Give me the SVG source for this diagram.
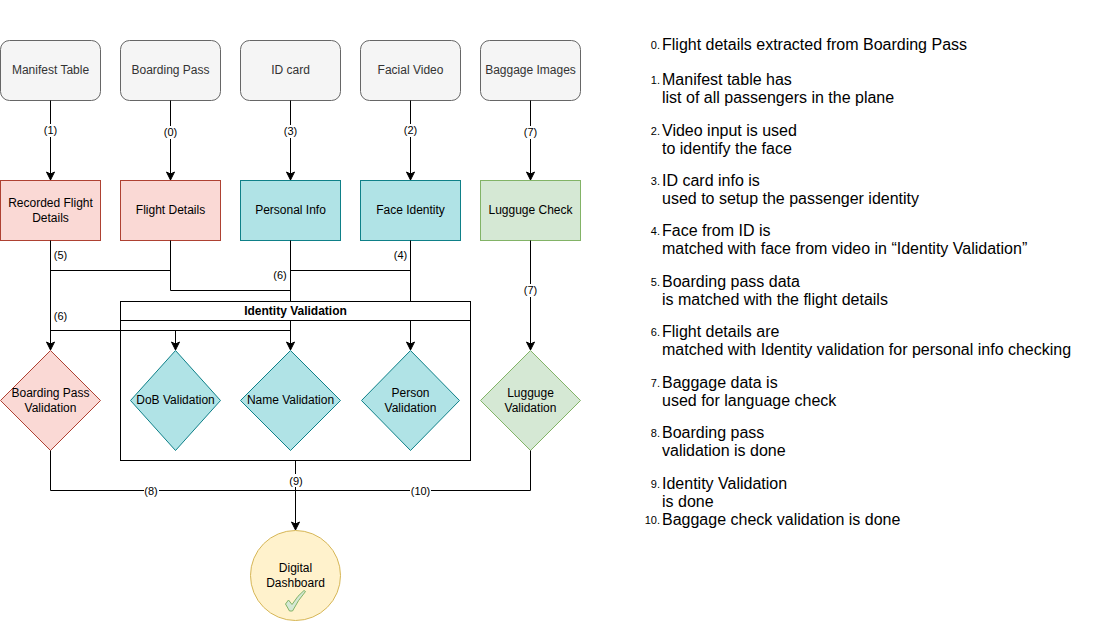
<svg xmlns="http://www.w3.org/2000/svg" width="1101" height="621" viewBox="0 0 1101 621">
<defs>
<marker id="arrow" markerUnits="userSpaceOnUse" markerWidth="12" markerHeight="12" refX="9" refY="5" orient="auto"><path d="M1 1L9 5L1 9L3 5Z" fill="#000" stroke="#000" stroke-width="1"/></marker>
</defs>
<style>
text{font-family:"Liberation Sans",Arial,sans-serif;font-size:12px;fill:#000;text-anchor:middle}
.src rect{fill:#f5f5f5;stroke:#666}
.src text{fill:#333}
.red rect,.red path{fill:#fad9d5;stroke:#ae4132}
.teal rect,.teal path{fill:#b0e3e6;stroke:#0e8088}
.green rect,.green path{fill:#d5e8d4;stroke:#82b366}
.line{fill:none;stroke:#000;stroke-width:1}
.lab{font-size:11px}
.labbg{fill:#fff}
.leg{font-size:16px;text-anchor:start}
.num{font-size:11px;text-anchor:end}
</style>
<rect width="1101" height="621" fill="#fff"/>
<g id="n-manifest" class="src"><rect x="0.5" y="40.5" width="100" height="60" rx="9" ry="9"/><text x="50.5" y="74">Manifest Table</text></g>
<g id="n-boarding" class="src"><rect x="120.5" y="40.5" width="100" height="60" rx="9" ry="9"/><text x="170.5" y="74">Boarding Pass</text></g>
<g id="n-id" class="src"><rect x="240.5" y="40.5" width="100" height="60" rx="9" ry="9"/><text x="290.5" y="74">ID card</text></g>
<g id="n-video" class="src"><rect x="360.5" y="40.5" width="100" height="60" rx="9" ry="9"/><text x="410.5" y="74">Facial Video</text></g>
<g id="n-baggage" class="src"><rect x="480.5" y="40.5" width="100" height="60" rx="9" ry="9"/><text x="530.5" y="74">Baggage Images</text></g>
<g id="n-recorded" class="red"><rect x="0.5" y="180.5" width="100" height="60"/><text x="50.5" y="207">Recorded Flight</text><text x="50.5" y="222">Details</text></g>
<g id="n-flight" class="red"><rect x="120.5" y="180.5" width="100" height="60"/><text x="170.5" y="214">Flight Details</text></g>
<g id="n-personal" class="teal"><rect x="240.5" y="180.5" width="100" height="60"/><text x="290.5" y="214">Personal Info</text></g>
<g id="n-face" class="teal"><rect x="360.5" y="180.5" width="100" height="60"/><text x="410.5" y="214">Face Identity</text></g>
<g id="n-luggage" class="green"><rect x="480.5" y="180.5" width="100" height="60"/><text x="530.5" y="214">Lugguge Check</text></g>
<g id="n-bpv" class="red"><path d="M50.5 350.5L100.5 400.5L50.5 450.5L0.5 400.5Z"/><text x="50.5" y="397">Boarding Pass</text><text x="50.5" y="412">Validation</text></g>
<g id="n-dob" class="teal"><path d="M175.5 350.5L220.5 400.5L175.5 450.5L130.5 400.5Z"/><text x="175.5" y="404">DoB Validation</text></g>
<g id="n-name" class="teal"><path d="M290.5 350.5L340.5 400.5L290.5 450.5L240.5 400.5Z"/><text x="290.5" y="404">Name Validation</text></g>
<g id="n-person" class="teal"><path d="M410.5 350.5L459.5 400.5L410.5 450.5L361.5 400.5Z"/><text x="410.5" y="397">Person</text><text x="410.5" y="412">Validation</text></g>
<g id="n-lv" class="green"><path d="M530.5 350.5L580.5 400.5L530.5 450.5L480.5 400.5Z"/><text x="530.5" y="397">Lugguge</text><text x="530.5" y="412">Validation</text></g>
<g id="n-dashboard"><circle cx="295.5" cy="575.5" r="45" fill="#fff2cc" stroke="#d6b656"/><text x="295.5" y="572">Digital</text><text x="295.5" y="587">Dashboard</text><path d="M285.5 604L288.5 600L292 604.5Q298 595 304 590.5L305.5 591.5Q298 600 292.5 611L289.5 611Z" fill="#d5e8d4" stroke="#82b366"/></g>
<g id="connectors">
<path class="line" marker-end="url(#arrow)" d="M50.5 100.5V180"/>
<path class="line" marker-end="url(#arrow)" d="M170.5 100.5V180"/>
<path class="line" marker-end="url(#arrow)" d="M290.5 100.5V180"/>
<path class="line" marker-end="url(#arrow)" d="M410.5 100.5V180"/>
<path class="line" marker-end="url(#arrow)" d="M530.5 100.5V180"/>
<path class="line" marker-end="url(#arrow)" d="M530.5 240.5V350"/>
<path class="line" marker-end="url(#arrow)" d="M50.5 240.5V350"/>
<path class="line" d="M50.5 270.5H170.5M170.5 240.5V290.5H290.5"/>
<path class="line" marker-end="url(#arrow)" d="M290.5 240.5V350"/>
<path class="line" d="M290.5 270.5H410.5"/>
<path class="line" marker-end="url(#arrow)" d="M410.5 240.5V350"/>
<path class="line" d="M50.5 330.5H290.5"/>
<path class="line" marker-end="url(#arrow)" d="M175.5 330.5V350"/>
<path class="line" d="M50.5 450.5V490.5H530.5V450.5"/>
<path class="line" marker-end="url(#arrow)" d="M295.5 460.5V530"/>
<rect class="labbg" x="43" y="124" width="15" height="13"/><text class="lab" x="50.5" y="134">(1)</text>
<rect class="labbg" x="163" y="126" width="15" height="13"/><text class="lab" x="170.5" y="136">(0)</text>
<rect class="labbg" x="283" y="125" width="15" height="13"/><text class="lab" x="290.5" y="135">(3)</text>
<rect class="labbg" x="403" y="124" width="15" height="13"/><text class="lab" x="410.5" y="134">(2)</text>
<rect class="labbg" x="523" y="126" width="15" height="13"/><text class="lab" x="530.5" y="136">(7)</text>
<rect class="labbg" x="523" y="284" width="15" height="13"/><text class="lab" x="530.5" y="294">(7)</text>
<text class="lab" x="60.5" y="259">(5)</text>
<text class="lab" x="280" y="279">(6)</text>
<text class="lab" x="400.5" y="259">(4)</text>
<text class="lab" x="60.5" y="320">(6)</text>
<rect class="labbg" x="144" y="484" width="15" height="13"/><text class="lab" x="151" y="495">(8)</text>
<rect class="labbg" x="288" y="474" width="15" height="13"/><text class="lab" x="296" y="485">(9)</text>
<rect class="labbg" x="410" y="484" width="21" height="13"/><text class="lab" x="420.5" y="495">(10)</text>
</g>
<g id="n-identity"><rect x="120.5" y="301.5" width="350" height="159" fill="none" stroke="#000"/><rect x="120.5" y="301.5" width="350" height="19" fill="#fff" stroke="#000"/><text x="295.5" y="315" font-weight="bold">Identity Validation</text></g>
<g id="legend">
<text class="num" x="660" y="49">0.</text><text class="leg" x="662" y="50">Flight details extracted from Boarding Pass</text>
<text class="num" x="660" y="84">1.</text><text class="leg" x="662" y="85">Manifest table has</text><text class="leg" x="662" y="103">list of all passengers in the plane</text>
<text class="num" x="660" y="135">2.</text><text class="leg" x="662" y="136">Video input is used</text><text class="leg" x="662" y="154">to identify the face</text>
<text class="num" x="660" y="185">3.</text><text class="leg" x="662" y="186">ID card info is</text><text class="leg" x="662" y="204">used to setup the passenger identity</text>
<text class="num" x="660" y="235">4.</text><text class="leg" x="662" y="236">Face from ID is</text><text class="leg" x="662" y="254">matched with face from video in “Identity Validation”</text>
<text class="num" x="660" y="286">5.</text><text class="leg" x="662" y="287">Boarding pass data</text><text class="leg" x="662" y="305">is matched with the flight details</text>
<text class="num" x="660" y="336">6.</text><text class="leg" x="662" y="337">Flight details are</text><text class="leg" x="662" y="355">matched with Identity validation for personal info checking</text>
<text class="num" x="660" y="387">7.</text><text class="leg" x="662" y="388">Baggage data is</text><text class="leg" x="662" y="406">used for language check</text>
<text class="num" x="660" y="437">8.</text><text class="leg" x="662" y="438">Boarding pass</text><text class="leg" x="662" y="456">validation is done</text>
<text class="num" x="660" y="488">9.</text><text class="leg" x="662" y="489">Identity Validation</text><text class="leg" x="662" y="507">is done</text>
<text class="num" x="660" y="524">10.</text><text class="leg" x="662" y="525">Baggage check validation is done</text>
</g>
</svg>
